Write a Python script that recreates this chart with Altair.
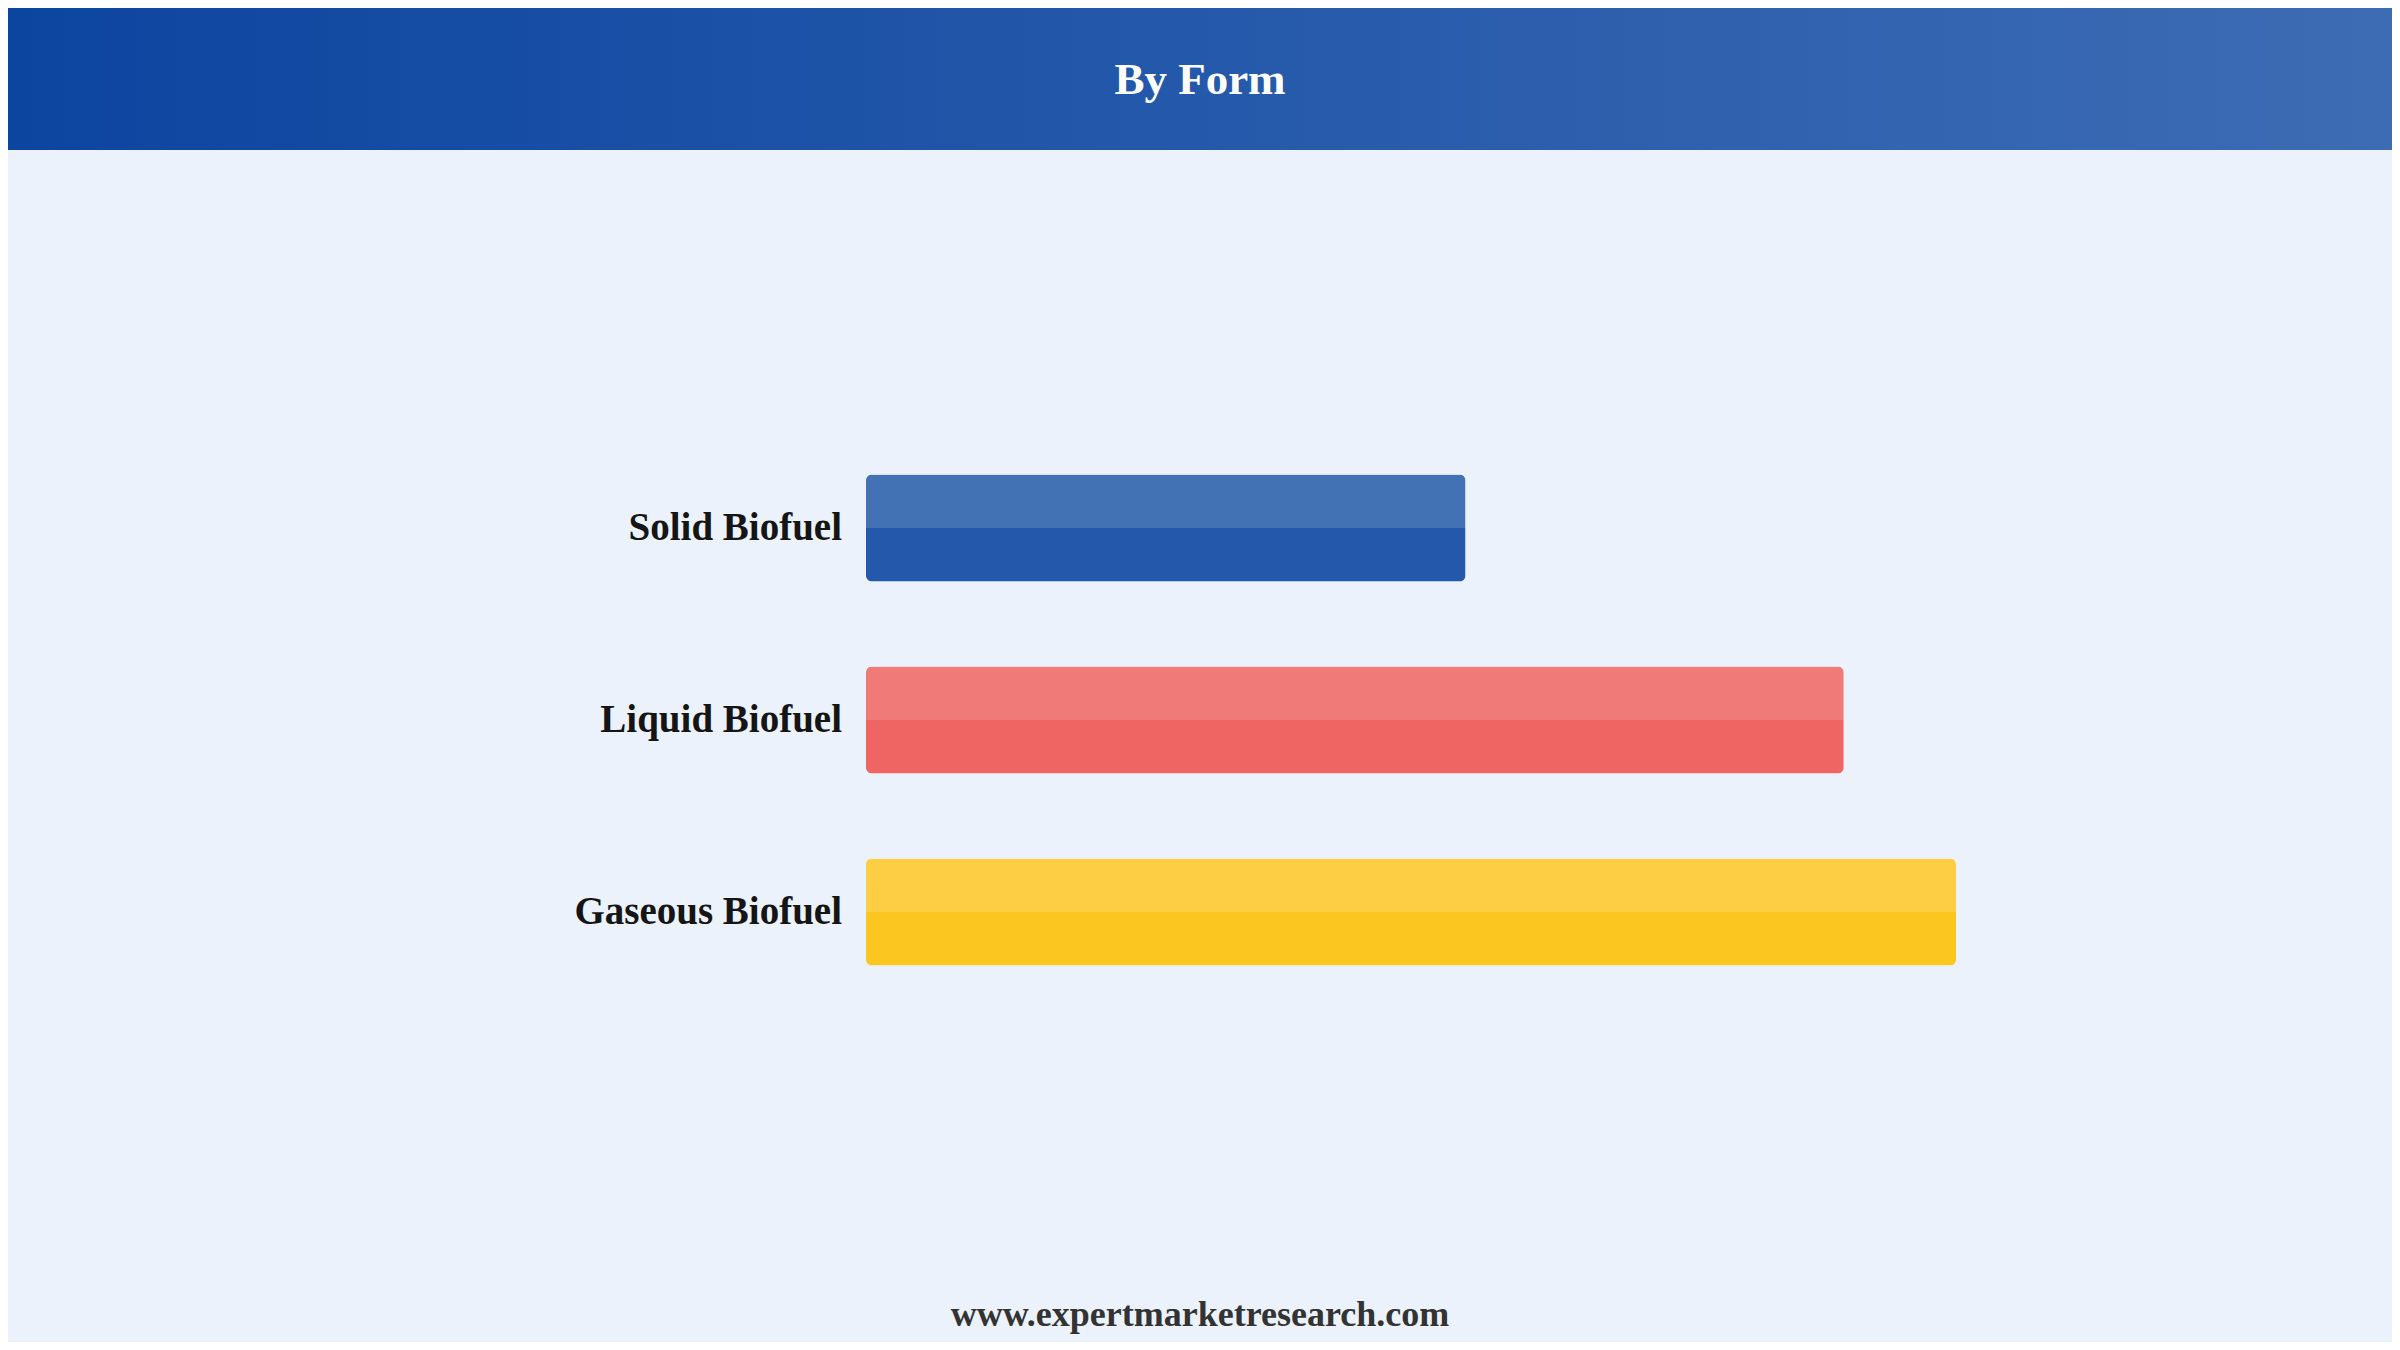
import altair as alt
import pandas as pd

categories = ["Solid Biofuel", "Liquid Biofuel", "Gaseous Biofuel"]
values = [55, 89.7, 100]
base_colors = ["#2358AA", "#EE6563", "#FCC620"]
top_colors = ["#4372B4", "#F07A78", "#FDCE44"]

title_text = "By Form"
footer_text = "www.expertmarketresearch.com"

rows = []
keys, cols = [], []
for c, v, bc, tc in zip(categories, values, base_colors, top_colors):
    for part, col in (("top", tc), ("bottom", bc)):
        k = c + "|" + part
        rows.append({"cat": c, "value": v, "part": part, "key": k})
        keys.append(k)
        cols.append(col)
df = pd.DataFrame(rows)

FONT = "Liberation Serif"

y_enc = alt.Y("cat:N", sort=categories, axis=None,
              scale=alt.Scale(paddingInner=0.443, paddingOuter=0.2215))
x_enc = alt.X("value:Q", axis=None, scale=alt.Scale(domain=[0, 100], nice=False))
yoff = alt.YOffset("part:N", scale=alt.Scale(domain=["top", "bottom"], paddingInner=0, paddingOuter=0))
color_enc = alt.Color("key:N", scale=alt.Scale(domain=keys, range=cols), legend=None)

base = alt.Chart(df)

top_bars = base.transform_filter(alt.datum.part == "top").mark_bar(
    cornerRadiusTopLeft=6, cornerRadiusTopRight=6, opacity=1
).encode(x=x_enc, y=y_enc, yOffset=yoff, color=color_enc)

bottom_bars = base.transform_filter(alt.datum.part == "bottom").mark_bar(
    cornerRadiusBottomLeft=6, cornerRadiusBottomRight=6, opacity=1
).encode(x=x_enc, y=y_enc, yOffset=yoff, color=color_enc)

labels = base.transform_filter(alt.datum.part == "top").mark_text(
    align="right", baseline="middle", dx=-24, font=FONT, fontSize=39,
    fontWeight="bold", color="#151515"
).encode(y=y_enc, x=alt.value(0), text="cat:N")

gradient = alt.Gradient(
    gradient="linear",
    stops=[alt.GradientStop(color="#0C45A0", offset=0),
           alt.GradientStop(color="#3D6CB4", offset=1)],
    x1=0, x2=1, y1=0, y2=0,
)
header = alt.Chart(pd.DataFrame({"t": [title_text]})).mark_rect(
    color=gradient
).encode(x=alt.value(-858), x2=alt.value(1526), y=alt.value(-424), y2=alt.value(-282))

title = alt.Chart(pd.DataFrame({"t": [title_text]})).mark_text(
    align="center", baseline="middle", font=FONT, fontSize=45,
    fontWeight="bold", color="white"
).encode(x=alt.value(334), y=alt.value(-352), text="t:N")

footer = alt.Chart(pd.DataFrame({"t": [footer_text]})).mark_text(
    align="center", baseline="middle", font=FONT, fontSize=36,
    fontWeight="bold", color="#333333"
).encode(x=alt.value(334), y=alt.value(883), text="t:N")

chart = alt.layer(header, title, bottom_bars, top_bars, labels, footer).properties(
    width=1090, height=576,
    padding={"left": 858, "right": 436, "top": 424, "bottom": 334},
    autosize=alt.AutoSizeParams(type="none"),
    background="#EBF2FC",
).configure_view(stroke=None)

chart.save("out.html", embed_options={"renderer": "svg", "actions": False})
